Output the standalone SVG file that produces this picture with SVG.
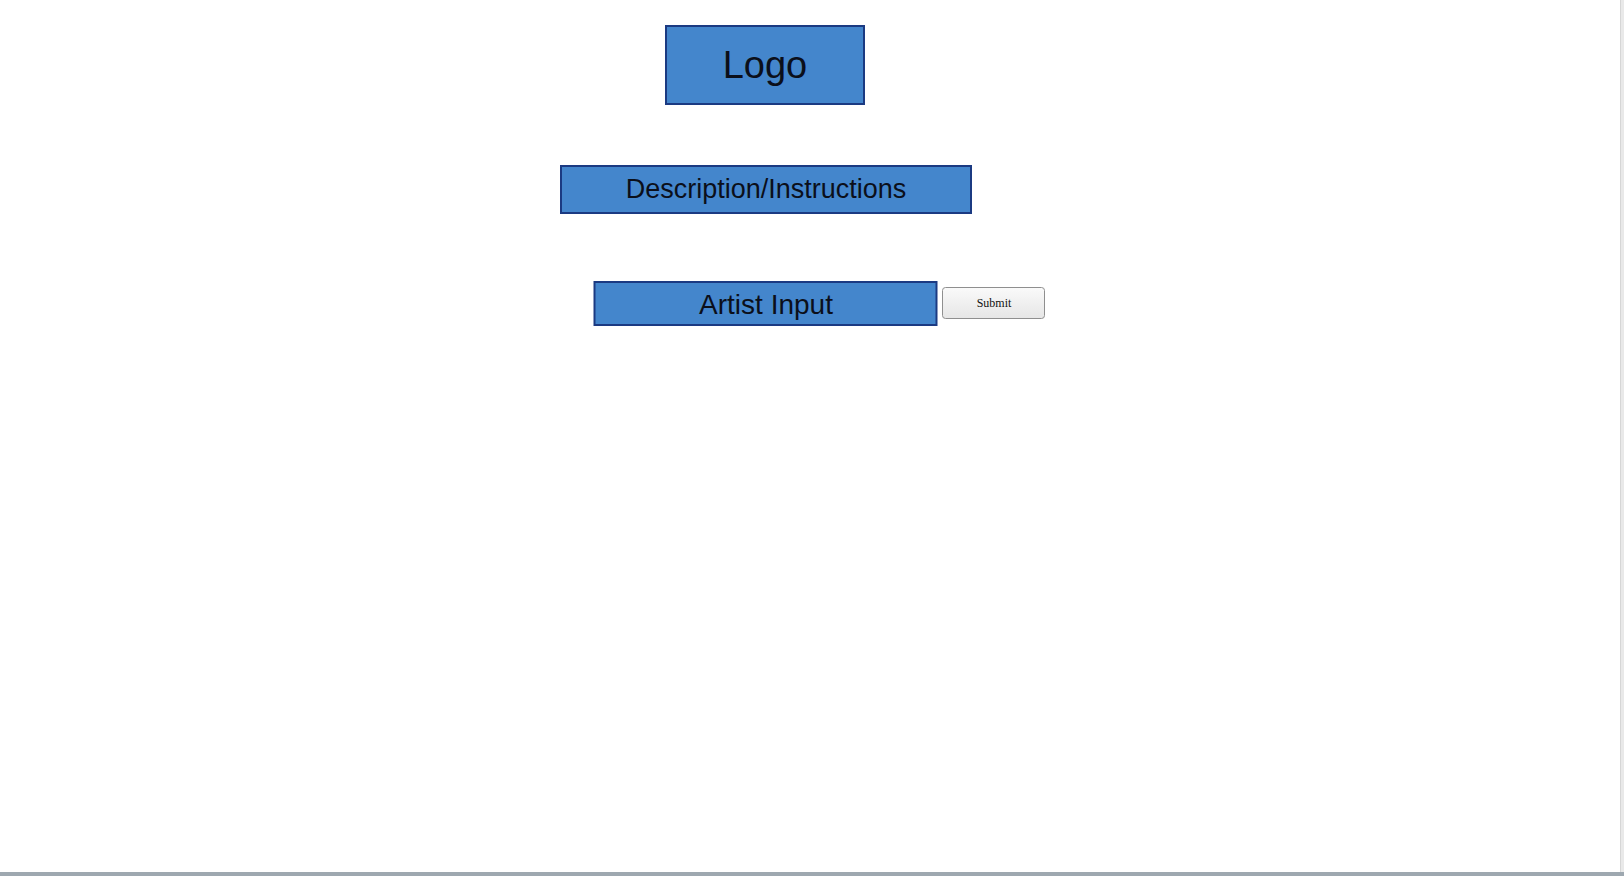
<svg xmlns="http://www.w3.org/2000/svg" width="1624" height="876" viewBox="0 0 1624 876">
  <defs>
    <linearGradient id="btnGrad" x1="0" y1="0" x2="0" y2="1">
      <stop offset="0" stop-color="#fafafa"/>
      <stop offset="1" stop-color="#e6e6e6"/>
    </linearGradient>
  </defs>
  <style>
    .box { fill: #4486cc; stroke: #1b3a82; stroke-width: 2; }
    .lbl { font-family: "Liberation Sans", Arial, sans-serif; fill: #0b0f1a; text-anchor: middle; }
    .btn { fill: url(#btnGrad); stroke: #8f8f8f; stroke-width: 1; }
    .btnText { font-family: "Liberation Serif", "Times New Roman", serif; font-size: 12px; fill: #111; text-anchor: middle; }
  </style>
  <rect x="0" y="0" width="1624" height="876" fill="#ffffff"/>
  <g id="logo">
    <rect class="box" x="666" y="26" width="198" height="78"/>
    <text class="lbl" x="765" y="78" font-size="38">Logo</text>
  </g>
  <g id="description">
    <rect class="box" x="561" y="166" width="410" height="47"/>
    <text class="lbl" x="766" y="198" font-size="27">Description/Instructions</text>
  </g>
  <g id="artist-input">
    <rect class="box" x="594.5" y="282" width="342" height="43"/>
    <text class="lbl" x="766" y="313.5" font-size="28">Artist Input</text>
  </g>
  <g id="submit">
    <rect class="btn" x="942.5" y="287.5" width="102" height="31" rx="3" ry="3"/>
    <text class="btnText" x="994" y="307">Submit</text>
  </g>
  <g id="connectors"/>
  <g id="chrome">
    <rect x="1620" y="0" width="4" height="872" fill="#e9e9e9"/>
    <line x1="1620.5" y1="0" x2="1620.5" y2="872" stroke="#d6d6d6" stroke-width="1"/>
    <rect x="0" y="872" width="1624" height="4" fill="#9ea8b0"/>
  </g>
</svg>
